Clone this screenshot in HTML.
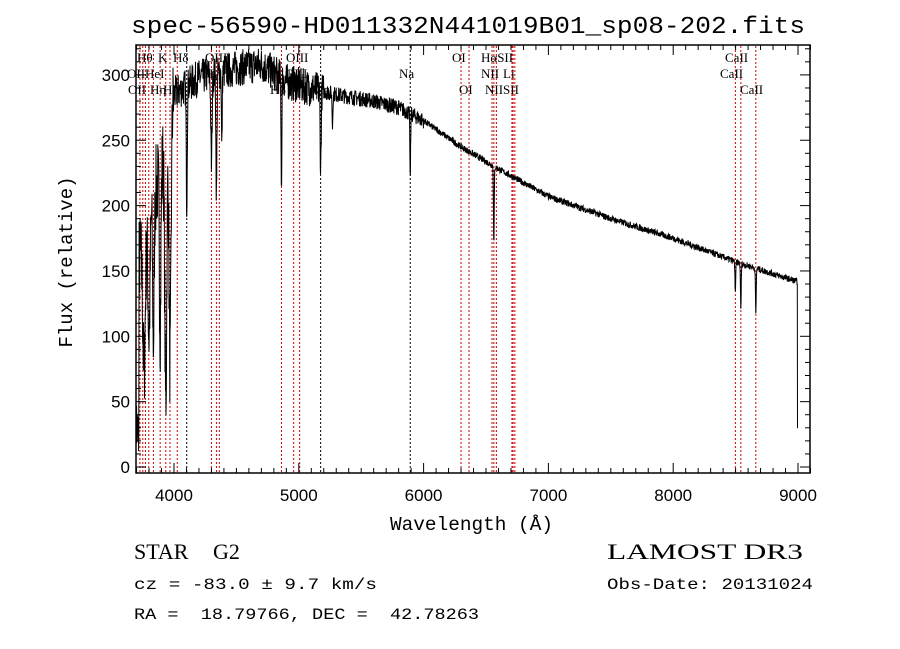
<!DOCTYPE html>
<html><head><meta charset="utf-8"><style>
body{margin:0;background:#fff;width:900px;height:649px;overflow:hidden}
svg{display:block}
text{white-space:pre}
</style></head><body>
<svg id="s" width="900" height="649" xmlns="http://www.w3.org/2000/svg" xml:space="preserve">
<rect width="900" height="649" fill="#fff"/>
<text x="131" y="33" font-family="Liberation Mono, monospace" font-size="24" textLength="674" lengthAdjust="spacingAndGlyphs">spec-56590-HD011332N441019B01_sp08-202.fits</text>
<g id="lines"></g>
<path id="spec" fill="none" stroke="#000" stroke-width="1"/>
<rect x="136" y="45" width="674" height="428" fill="none" stroke="#000" stroke-width="1.5"/>
<g id="ticks" stroke="#000" stroke-width="1"></g>
<g font-family="Liberation Sans, sans-serif" font-size="17" id="tl"></g>
<text x="390" y="530" font-family="Liberation Mono, monospace" font-size="19" textLength="163" lengthAdjust="spacingAndGlyphs">Wavelength (Å)</text>
<text transform="translate(72,262) rotate(-90)" font-family="Liberation Mono, monospace" font-size="19" text-anchor="middle">Flux (relative)</text>
<g font-family="Liberation Serif, serif" font-size="13" id="lab"></g>
<text x="134" y="559" font-family="Liberation Serif, serif" font-size="22">STAR</text>
<text x="213" y="559" font-family="Liberation Serif, serif" font-size="22">G2</text>
<text x="607" y="559" font-family="Liberation Serif, serif" font-size="22" textLength="196" lengthAdjust="spacingAndGlyphs">LAMOST DR3</text>
<text x="134" y="589" font-family="Liberation Mono, monospace" font-size="16" textLength="243" lengthAdjust="spacingAndGlyphs">cz = -83.0 ± 9.7 km/s</text>
<text x="607" y="589" font-family="Liberation Mono, monospace" font-size="16" textLength="206" lengthAdjust="spacingAndGlyphs">Obs-Date: 20131024</text>
<text x="134" y="619" font-family="Liberation Mono, monospace" font-size="16" textLength="345" lengthAdjust="spacingAndGlyphs">RA =  18.79766, DEC =  42.78263</text>
</svg>
<script>
var NS="http://www.w3.org/2000/svg";
function X(w){return 174+(w-4000)*0.1248;}
function Y(v){return 467-v*1.307;}
function el(p,t,a,txt){var e=document.createElementNS(NS,t);for(var k in a)e.setAttribute(k,a[k]);if(txt)e.textContent=txt;p.appendChild(e);return e;}
var L=document.getElementById('lines');
var ls=[[3727,'r'],[3750,'r'],[3771,'r'],[3798,'r'],[3835,'r'],[3889,'r'],[3934,'r'],[3968,'r'],[4026,'r'],[4102,'k'],[4300,'r'],[4340,'r'],[4363,'r'],[4861,'r'],[4959,'r'],[5007,'r'],[5175,'k'],[5893,'k'],[6300,'r'],[6364,'r'],[6548,'r'],[6563,'r'],[6583,'r'],[6708,'r'],[6717,'r'],[6731,'r'],[8498,'r'],[8542,'r'],[8662,'r']];
ls.forEach(function(l){var x=X(l[0]);el(L,'line',{x1:x,x2:x,y1:46,y2:472,stroke:l[1]=='r'?'#c00':'#000','stroke-width':1,'stroke-dasharray':'2,2'});});
var lb=document.getElementById('lab');
[[137,62,'Hθ'],[158,62,'K'],[173,62,'Hδ'],[205,62,'OIII'],[286,62,'OIII'],[127,78,'OII'],[145,78,'HeI'],[204,78,'Hγ'],[285,78,'OIII'],[128,94,'OII'],[150,94,'Hη'],[163,94,'H'],[270,94,'Hβ'],[312,94,'Mg'],[399,78,'Na'],[452,62,'OI'],[459,94,'OI'],[481,62,'HαSII'],[481,78,'NII'],[503,78,'Li'],[485,94,'NIISII'],[725,62,'CaII'],[720,78,'CaII'],[740,94,'CaII']].forEach(function(t){el(lb,'text',{x:t[0],y:t[1]},t[2]);});
var T=document.getElementById('ticks'),TL=document.getElementById('tl');
for(var w=3700;w<=9100;w+=100){var x=X(w);var big=w%1000==0;var h=big?10:5;el(T,'line',{x1:x,x2:x,y1:473,y2:473-h});el(T,'line',{x1:x,x2:x,y1:45,y2:45+h});if(big)el(TL,'text',{x:x,y:501,'text-anchor':'middle'},''+w);}
for(var v=0;v<=320;v+=10){var y=Y(v);var big=v%50==0;var h=big?10:5;el(T,'line',{x1:136,x2:136+h,y1:y,y2:y});el(T,'line',{x1:810,x2:810-h,y1:y,y2:y});if(big)el(TL,'text',{x:130,y:y+6,'text-anchor':'end'},''+v);}
var cp=[[3700,150],[3800,190],[3900,230],[4000,285],[4200,298],[4500,305],[4700,308],[4900,295],[5000,292],[5300,285],[5600,280],[5800,275],[6000,265],[6300,245],[6600,228],[7000,207],[7500,190],[8000,175],[8500,157],[8990,142]];
function cont(w){for(var i=0;i<cp.length-1;i++){if(w<=cp[i+1][0]){var t=(w-cp[i][0])/(cp[i+1][0]-cp[i][0]);return cp[i][1]+t*(cp[i+1][1]-cp[i][1]);}}return 142;}
var abs=[[3934,200,8],[3968,190,8],[3835,110,6],[3889,120,6],[3760,100,10],[3800,90,8],[4102,90,4],[4340,95,4],[4383,60,3],[4300,70,5],[4861,85,3],[5175,60,4],[5270,25,3],[5893,50,3],[6563,60,3],[8498,25,3],[8542,35,3],[8662,35,3]];
var seed=7;function rnd(){seed=(seed*16807)%2147483647;return seed/2147483647-0.5;}
var d='';
for(var w=3700;w<=9000;w+=2){var v=cont(w);abs.forEach(function(a){var z=(w-a[0])/a[2];v-=a[1]*Math.exp(-z*z/2);});
var n=w<4000?70:(w<5200?28:(w<6000?12:5));v+=rnd()*n;if(w<3720)v=30+rnd()*40;if(w>=8996)v=30;
d+=(d?'L':'M')+X(w).toFixed(1)+','+Y(v).toFixed(1);}
document.getElementById('spec').setAttribute('d',d);
</script>
</body></html>
